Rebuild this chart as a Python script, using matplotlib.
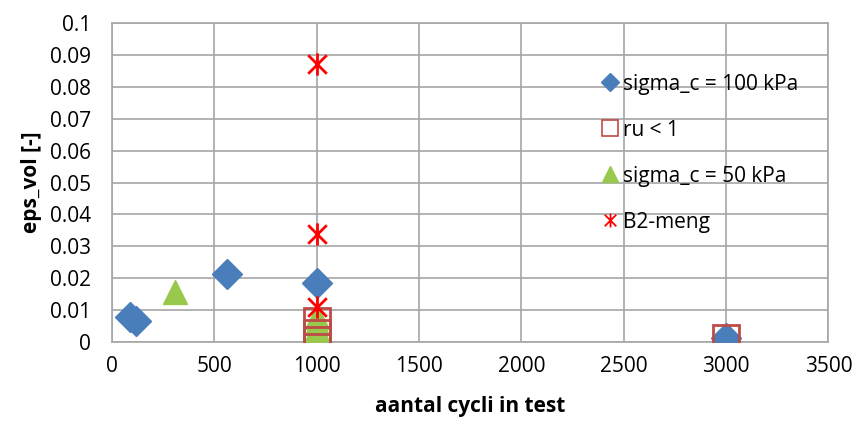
import numpy as np
import matplotlib.pyplot as plt
from matplotlib.path import Path

plt.rcParams['font.family'] = ['Open Sans', 'DejaVu Sans']

# data
sig100_x = [90, 120, 560, 1000, 3000]
sig100_y = [0.008, 0.0065, 0.0215, 0.0185, 0.0013]

ru_x = [1000, 1000, 1000, 3000]
ru_y = [0.0065, 0.003, 0.0008, 0.0013]

sig50_x = [310, 1000, 1000, 1000, 1000, 1000]
sig50_y = [0.0158, 0.008, 0.006, 0.004, 0.002, 0.0005]

b2_x = [1000, 1000, 1000]
b2_y = [0.087, 0.034, 0.011]

xticks = [0, 500, 1000, 1500, 2000, 2500, 3000, 3500]
yticks = [0, 0.01, 0.02, 0.03, 0.04, 0.05, 0.06, 0.07, 0.08, 0.09, 0.1]
ytick_labels = ["0", "0.01", "0.02", "0.03", "0.04", "0.05", "0.06", "0.07", "0.08", "0.09", "0.1"]

# asterisk marker: X with a vertical bar
star = Path([(-1, -1), (1, 1), (-1, 1), (1, -1), (0, -1.2), (0, 1.2)],
            [Path.MOVETO, Path.LINETO, Path.MOVETO, Path.LINETO, Path.MOVETO, Path.LINETO])

fig = plt.figure(figsize=(8.54, 4.25), dpi=100)
ax = fig.add_axes([0.131, 0.195, 0.839, 0.751])

ax.plot(sig100_x, sig100_y, 'D', color='#4a7ebb', markersize=15, linestyle='none',
        label='sigma_c = 100 kPa', zorder=3)
ax.plot(ru_x, ru_y, 's', markerfacecolor='none', markeredgecolor='#be4b48', markeredgewidth=2,
        markersize=19, linestyle='none', label='ru < 1', zorder=4)
ax.plot(sig50_x, sig50_y, '^', color='#98c84c', markersize=17, linestyle='none',
        label='sigma_c = 50 kPa', zorder=3)
ax.plot(b2_x, b2_y, marker=star, color='#ff0000', markeredgewidth=2, markersize=16,
        linestyle='none', label='B2-meng', zorder=5)

ax.set_xlim(0, 3500)
ax.set_ylim(0, 0.1)
ax.set_xticks(xticks)
ax.set_yticks(yticks)
ax.set_yticklabels(ytick_labels)
ax.tick_params(length=0, labelsize=15)
ax.tick_params(axis='y', pad=15)
ax.tick_params(axis='x', pad=10)
ax.grid(True, color='#a6a6a6', linewidth=1.2)
ax.set_axisbelow(True)
for s in ax.spines.values():
    s.set_color('#a6a6a6')
    s.set_linewidth(1.2)

ax.set_xlabel('aantal cycli in test', fontsize=15, fontweight='bold', labelpad=14)
ax.set_ylabel('eps_vol [-]', fontsize=15, fontweight='bold', labelpad=6)

leg = ax.legend(loc='upper left', bbox_to_anchor=(0.655, 0.9), frameon=False, fontsize=15,
                handletextpad=0.1, labelspacing=1.2, handlelength=1.0)
for h, ms, mew in zip(leg.legend_handles, [9, 11, 12, 10], [1, 1.2, 1, 1.3]):
    h.set_markersize(ms)
    h.set_markeredgewidth(mew)

fig.savefig('out.png', dpi=100)
